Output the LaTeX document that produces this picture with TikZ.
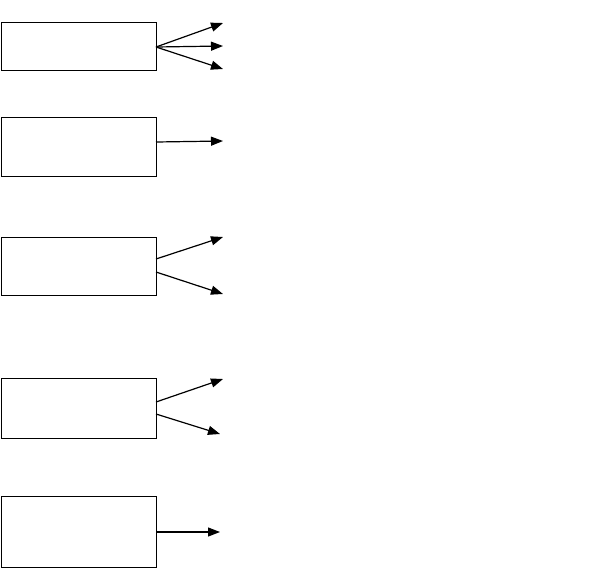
\documentclass[tikz,border=0pt]{standalone}
\usetikzlibrary{arrows.meta}
\begin{document}
\begin{tikzpicture}[x=1pt,y=-1pt,
  boxnode/.style={draw,line width=1.4pt,minimum width=155pt,anchor=north west,inner sep=0pt},
  arr/.style={line width=1.2pt,-{Triangle[length=12pt,width=9pt]}}]
\useasboundingbox (0,0) rectangle (590,582);
\node[boxnode,minimum height=48pt] (b1) at (1,22) {};
\node[boxnode,minimum height=59pt] (b2) at (1,117) {};
\node[boxnode,minimum height=58pt] (b3) at (1,237) {};
\node[boxnode,minimum height=60pt] (b4) at (1,378) {};
\node[boxnode,minimum height=71pt] (b5) at (1,496) {};
\coordinate (s1) at (156,47);
\coordinate (t1a) at (223,23);
\coordinate (t1b) at (223,46);
\coordinate (t1c) at (223,69);
\coordinate (s2) at (156,142);
\coordinate (t2) at (223,141);
\coordinate (s3a) at (156,259);
\coordinate (s3b) at (156,272);
\coordinate (t3a) at (223,237);
\coordinate (t3b) at (223,294);
\coordinate (s4a) at (156,402);
\coordinate (s4b) at (156,414);
\coordinate (t4a) at (223,379);
\coordinate (t4b) at (220,434);
\coordinate (s5) at (156,532);
\coordinate (t5) at (220,532);
\draw[arr] (s1) -- (t1a);
\draw[arr] (s1) -- (t1b);
\draw[arr] (s1) -- (t1c);
\draw[arr] (s2) -- (t2);
\draw[arr] (s3a) -- (t3a);
\draw[arr] (s3b) -- (t3b);
\draw[arr] (s4a) -- (t4a);
\draw[arr] (s4b) -- (t4b);
\draw[arr] (s5) -- (t5);
\end{tikzpicture}
\end{document}
